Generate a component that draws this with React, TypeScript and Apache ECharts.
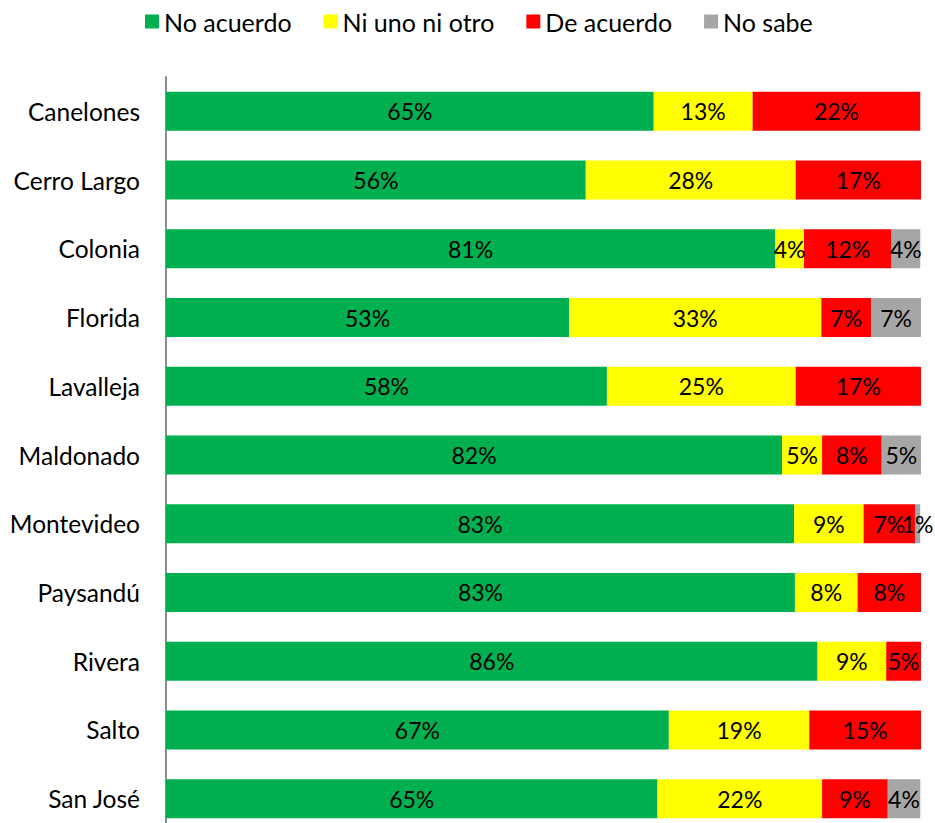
import React, { useEffect, useRef } from "react";
import * as echarts from "echarts";

const categories = [
  "Canelones",
  "Cerro Largo",
  "Colonia",
  "Florida",
  "Lavalleja",
  "Maldonado",
  "Montevideo",
  "Paysandú",
  "Rivera",
  "Salto",
  "San José",
];

const seriesNames = ["No acuerdo", "Ni uno ni otro", "De acuerdo", "No sabe"];

const noAcuerdo = [64.6, 55.6, 80.7, 53.4, 58.4, 81.6, 83.2, 83.3, 86.3, 66.6, 65.1];
const niUnoNiOtro = [13.1, 27.8, 3.8, 33.4, 25.0, 5.3, 9.2, 8.3, 9.1, 18.6, 21.8];
const deAcuerdo = [22.2, 16.6, 11.6, 6.6, 16.6, 7.9, 6.8, 8.4, 4.6, 14.8, 8.7];
const noSabe = [0, 0, 3.8, 6.7, 0, 5.3, 0.7, 0, 0, 0, 4.3];

const colors = ["#00B050", "#FFFF00", "#FF0000", "#A6A6A6"];

export default function App() {
  const ref = useRef<HTMLDivElement>(null);

  useEffect(() => {
    if (!ref.current) return;
    const chart = echarts.init(ref.current, null, { renderer: "svg" });
    const allData = [noAcuerdo, niUnoNiOtro, deAcuerdo, noSabe];
    const font = "Lato";
    chart.setOption({
      animation: false,
      textStyle: { fontFamily: font },
      legend: {
        top: 4,
        left: 140,
        itemWidth: 14,
        itemHeight: 14,
        itemGap: 32,
        icon: "rect",
        textStyle: { fontSize: 25, color: "#000", fontFamily: font },
        data: seriesNames,
      },
      grid: { left: 166, right: 14, top: 77, bottom: 0 },
      xAxis: {
        type: "value",
        min: 0,
        max: 100,
        show: false,
        splitLine: { show: false },
      },
      yAxis: {
        type: "category",
        inverse: true,
        data: categories,
        axisLine: { show: true, lineStyle: { color: "#8C8C8C", width: 2 } },
        axisTick: { show: false },
        axisLabel: { fontSize: 24.5, color: "#000", margin: 26, fontFamily: font },
      },
      series: seriesNames.map((name, i) => ({
        name,
        type: "bar",
        stack: "total",
        barWidth: 39,
        itemStyle: { color: colors[i] },
        label: {
          show: true,
          position: "inside",
          fontSize: 23,
          color: "#000",
          fontFamily: font,
          formatter: (p: any) => (p.value > 0 ? Math.round(p.value) + "%" : ""),
        },
        data: allData[i],
      })),
    });
    return () => chart.dispose();
  }, []);

  return (
    <div
      style={{
        position: "absolute",
        left: 0,
        top: 0,
        width: 935,
        height: 823,
        overflow: "hidden",
      }}
    >
      <div ref={ref} style={{ width: 935, height: 833 }} />
    </div>
  );
}
